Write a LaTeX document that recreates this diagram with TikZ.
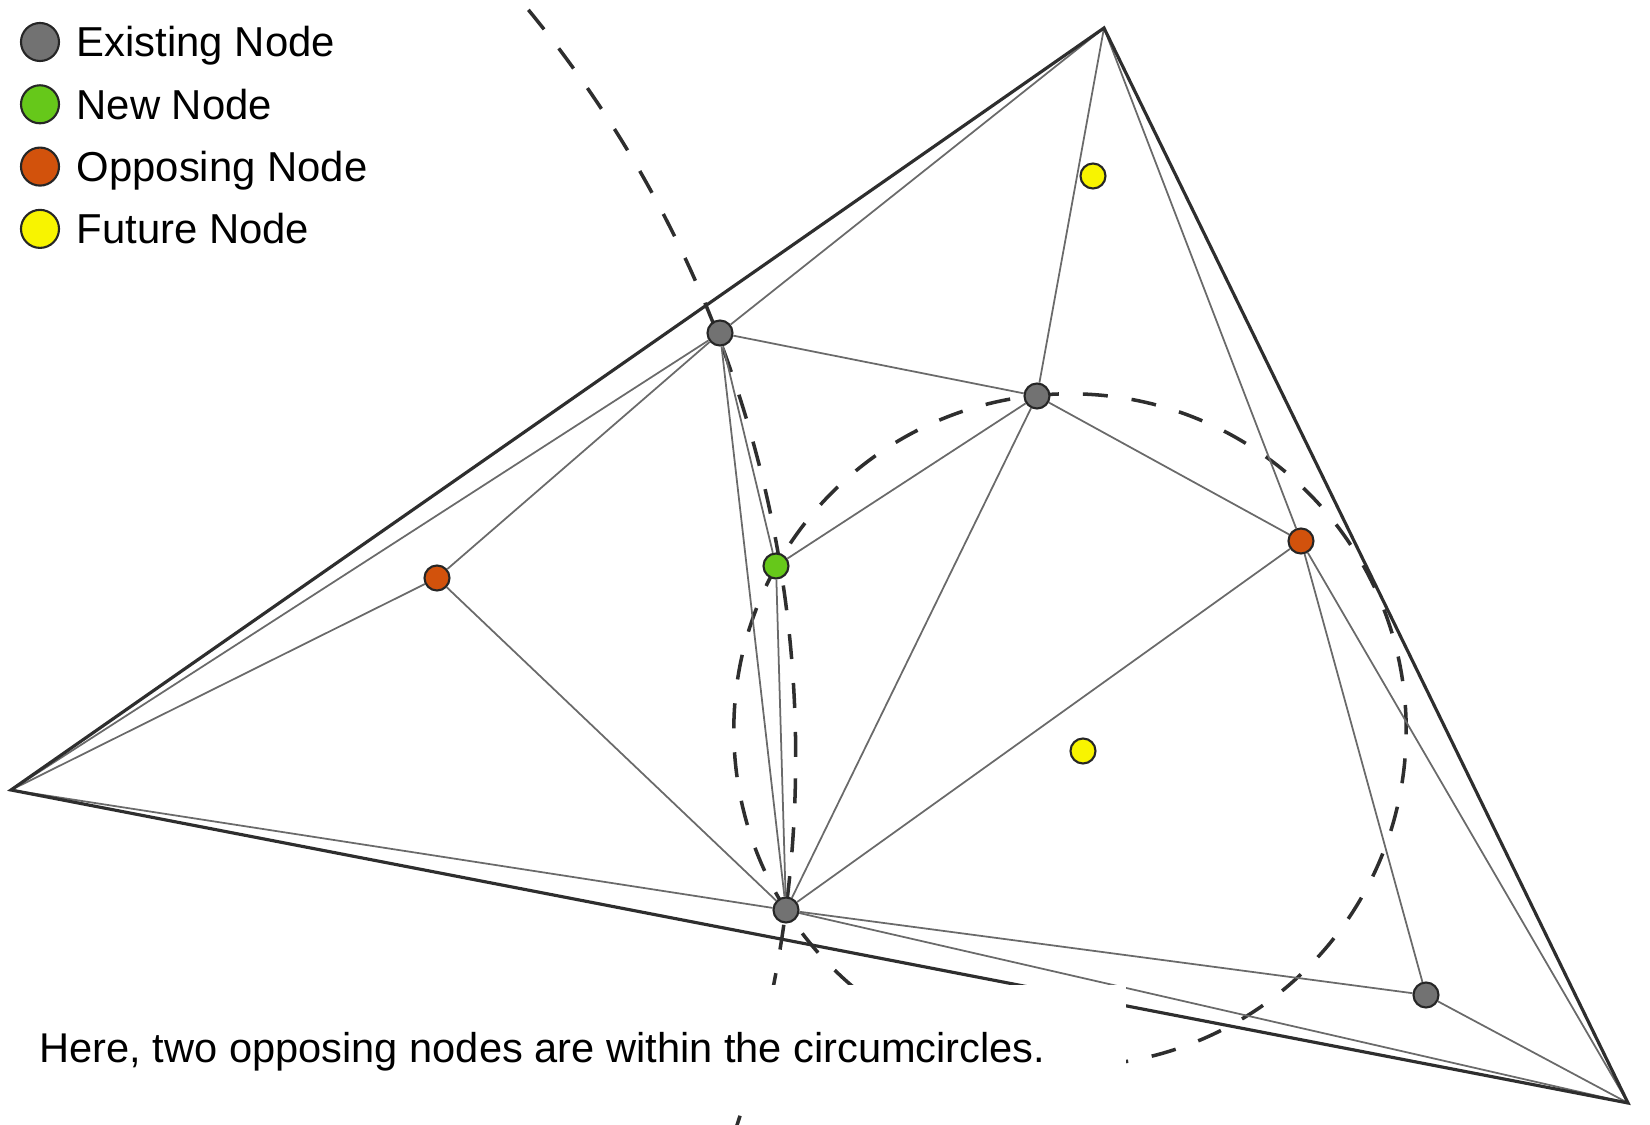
\documentclass[tikz,border=0pt]{standalone}
\usepackage{fontspec}
\setmainfont{Liberation Sans}
\definecolor{existfill}{HTML}{727272}
\definecolor{newfill}{HTML}{66C81A}
\definecolor{opposefill}{HTML}{D2520C}
\definecolor{futurefill}{HTML}{F8F400}
\definecolor{edgegray}{HTML}{6A6A6A}
\definecolor{hullgray}{HTML}{2E2E2E}
\begin{document}
\begin{tikzpicture}[x=0.01cm,y=-0.01cm,
  edge/.style={draw=edgegray,line width=0.5pt},
  hull/.style={draw=hullgray,line width=0.9pt},
  circum/.style={draw=hullgray,line width=1pt,dash pattern=on 0.25cm off 0.24cm},
  vtx/.style={circle,draw=black!85,line width=0.6pt,inner sep=0pt,minimum size=0.25cm},
  key/.style={vtx,minimum size=0.38cm}]
\useasboundingbox (0,0) rectangle (1650,1125);
% circumcircles
\begin{scope}
  \clip (0,0) rectangle (1650,1125);
  \draw[circum] (-382,757) circle[radius=11.77cm];
  \draw[circum] (1070,730) circle[radius=3.36cm];
\end{scope}
\coordinate (A) at (11,790);
\coordinate (B) at (1104,28);
\coordinate (C) at (1628,1103);
\node[vtx,fill=existfill] (P1) at (720,333) {};
\node[vtx,fill=existfill] (P2) at (1037,396) {};
\node[vtx,fill=existfill] (G) at (786,910) {};
\node[vtx,fill=existfill] (P4) at (1426,995) {};
\node[vtx,fill=newfill] (N) at (776,566) {};
\node[vtx,fill=opposefill] (O1) at (437,578) {};
\node[vtx,fill=opposefill] (O2) at (1301,541) {};
\node[vtx,fill=futurefill] (Y1) at (1093,176) {};
\node[vtx,fill=futurefill] (Y2) at (1083,751) {};
\foreach \u/\v in {A/P1,B/P1,A/O1,O1/P1,O1/G,A/G,P1/P2,P1/N,P1/G,B/P2,B/O2,
  P2/N,P2/G,P2/O2,N/G,G/O2,G/P4,G/C,O2/P4,O2/C,P4/C} {
  \draw[edge] (\u) -- (\v);
}
\draw[hull] (A) -- (B) -- (C) -- cycle;
% caption
\fill[white] (0,985) rectangle (1126,1108);
\node[anchor=base west,inner sep=0pt,font=\fontsize{11.83}{14}\selectfont] (caption) at (39,1063)
  {Here, two opposing nodes are within the circumcircles.};
% legend
\foreach \c/\t [count=\i] in {existfill/Existing Node,newfill/New Node,
  opposefill/Opposing Node,futurefill/Future Node} {
  \node[key,fill=\c] (key\i) at (40,{42+62.3*(\i-1)}) {};
  \node[anchor=base west,inner sep=0pt,font=\fontsize{11.9}{14}\selectfont] (label\i)
    at (76,{57+62.3*(\i-1)}) {\t};
}
\end{tikzpicture}
\end{document}
